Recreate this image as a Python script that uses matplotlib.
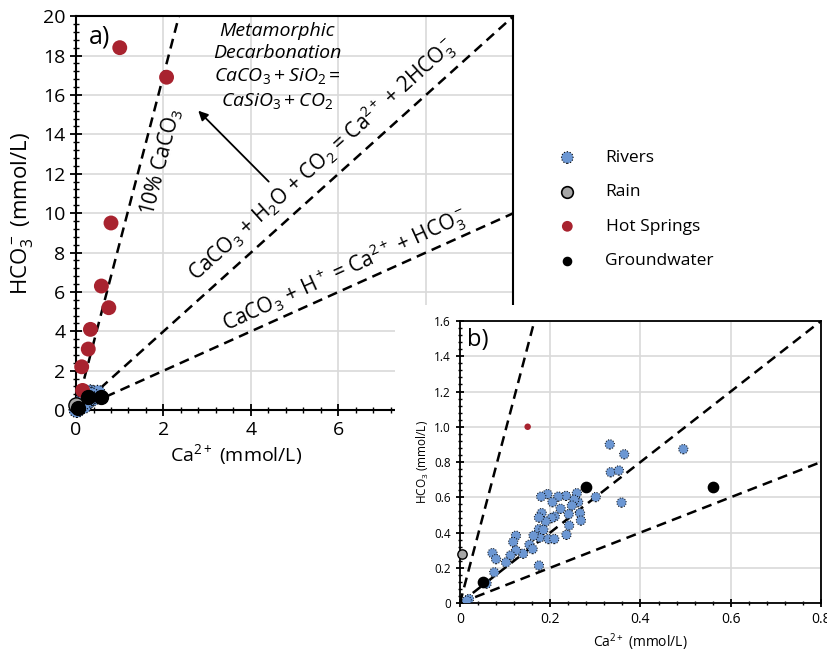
import numpy as np
import matplotlib.pyplot as plt
from matplotlib.patches import Rectangle
from matplotlib.ticker import MultipleLocator

plt.rcParams['font.family'] = ['Open Sans', 'DejaVu Sans']
plt.rcParams['mathtext.fontset'] = 'custom'
plt.rcParams['mathtext.rm'] = 'Open Sans'
plt.rcParams['mathtext.it'] = 'Open Sans:italic'

# data (mmol/L)
rivers_ca = [0.332, 0.364, 0.495, 0.334, 0.352, 0.358, 0.301, 0.259, 0.262, 0.253,
             0.235, 0.218, 0.194, 0.180, 0.205, 0.223, 0.248, 0.241, 0.266, 0.268,
             0.242, 0.236, 0.210, 0.203, 0.190, 0.181, 0.175, 0.175, 0.177, 0.163,
             0.196, 0.209, 0.154, 0.161, 0.140, 0.124, 0.118, 0.124, 0.112, 0.102,
             0.072, 0.080, 0.076, 0.175, 0.059, 0.020, 0.015, 0.185]
rivers_hco3 = [0.90, 0.844, 0.873, 0.742, 0.752, 0.570, 0.601, 0.623, 0.572, 0.586,
               0.608, 0.604, 0.618, 0.604, 0.572, 0.535, 0.553, 0.504, 0.510, 0.468,
               0.440, 0.387, 0.491, 0.482, 0.463, 0.510, 0.485, 0.419, 0.372, 0.382,
               0.363, 0.363, 0.331, 0.306, 0.280, 0.382, 0.346, 0.298, 0.270, 0.230,
               0.283, 0.249, 0.174, 0.213, 0.110, 0.023, 0.013, 0.415]
rain_ca = [0.005]
rain_hco3 = [0.28]
hot_ca = [1.0, 2.07, 0.80, 0.58, 0.75, 0.33, 0.28, 0.13, 0.15]
hot_hco3 = [18.4, 16.9, 9.5, 6.3, 5.2, 4.1, 3.1, 2.2, 1.0]
gw_ca = [0.05, 0.28, 0.56]
gw_hco3 = [0.12, 0.66, 0.66]

# HCO3/Ca reference ratios
ratio_10pct_a = 8.5
ratio_10pct_b = 9.7
ratio_co2 = 2.0
ratio_h = 1.0

c_river = '#6C97D3'
c_rain = '#A6A6A6'
c_hot = '#A8232F'
grid_c = '#d9d9d9'

fig = plt.figure(figsize=(8.27, 6.51), dpi=100)
ax = fig.add_axes([0.0919, 0.370, 0.529, 0.6052])
ax.set_zorder(0)


def style_axes(a, xmaj, xmin, ymaj, ymin, lw=1.5):
    a.xaxis.set_major_locator(MultipleLocator(xmaj))
    a.xaxis.set_minor_locator(MultipleLocator(xmin))
    a.yaxis.set_major_locator(MultipleLocator(ymaj))
    a.yaxis.set_minor_locator(MultipleLocator(ymin))
    a.grid(True, which='major', color=grid_c, linewidth=1.2)
    a.set_axisbelow(True)
    for s in a.spines.values():
        s.set_linewidth(lw)
        s.set_color('black')
    a.tick_params(which='major', direction='inout', length=8, width=1.3)
    a.tick_params(which='minor', direction='inout', length=4, width=1.0)


def ref_lines(a, slopes, xmax):
    xs = np.array([0, xmax])
    for m in slopes:
        a.plot(xs, m * xs, '--', color='black', lw=1.8, dashes=(4, 2.5), zorder=2)


# ---- panel a ----
ax.set_xlim(0, 10)
ax.set_ylim(0, 20)
style_axes(ax, 2, 0.4, 2, 0.4)
ax.set_xticks(np.arange(0, 11, 2), ['0', '2', '4', '6', '', ''])
ax.tick_params(labelsize=14)
ref_lines(ax, [ratio_10pct_a, ratio_co2, ratio_h], 10)
ax.scatter(rivers_ca, rivers_hco3, s=120, color=c_river, edgecolors='black',
           linewidths=0.8, linestyles=':', zorder=3, clip_on=False)
ax.scatter(rain_ca, rain_hco3, s=120, color=c_rain, edgecolors='black',
           linewidths=1.0, zorder=3, clip_on=False)
ax.scatter(hot_ca, hot_hco3, s=115, color=c_hot, edgecolors='none', zorder=3, clip_on=False)
ax.scatter(gw_ca, gw_hco3, s=100, color='black', zorder=4, clip_on=False)
ax.set_xlabel('Ca$^{2+}$ (mmol/L)', fontsize=14, labelpad=2)
ax.xaxis.set_label_coords(0.366, -0.082)
ax.set_ylabel('HCO$_3^-$ (mmol/L)', fontsize=16, labelpad=6)
ax.text(0.3, 19.6, 'a)', fontsize=18, va='top', ha='left')

ax.text(5.63, 12.7, 'CaCO$_3$ + H$_2$O + CO$_2$ = Ca$^{2+}$ + 2HCO$_3^-$',
        fontsize=15, rotation=42, ha='center', va='center', rotation_mode='anchor')
ax.text(6.15, 7.1, 'CaCO$_3$ + H$^+$ = Ca$^{2+}$ + HCO$_3^-$',
        fontsize=15, rotation=24.5, ha='center', va='center', rotation_mode='anchor')
ax.text(1.95, 12.6, '10% CaCO$_3$', fontsize=15, rotation=75.5,
        ha='center', va='center', rotation_mode='anchor')
ax.text(4.6, 17.45,
        'Metamorphic\nDecarbonation\n'
        r'$\mathit{CaCO}_3 + \mathit{SiO}_2 =$' '\n'
        r'$\mathit{CaSiO}_3 + \mathit{CO}_2$',
        fontsize=14, style='italic', ha='center', va='center', linespacing=1.3)
ax.annotate('', xy=(2.75, 15.3), xytext=(4.45, 11.5),
            arrowprops=dict(arrowstyle='-|>', color='black', lw=1.3,
                            mutation_scale=14))

# white block under panel b
fig.patches.append(Rectangle((395 / 827, 0), 1, 1 - 305 / 651,
                             transform=fig.transFigure, facecolor='white',
                             edgecolor='none', zorder=1))

# ---- panel b ----
bx = fig.add_axes([0.5562, 0.0737, 0.4365, 0.4332])
bx.set_zorder(2)
bx.set_xlim(0, 0.8)
bx.set_ylim(0, 1.6)
style_axes(bx, 0.2, 0.04, 0.2, 0.04, lw=1.3)
bx.tick_params(which='major', length=6)
bx.tick_params(which='minor', length=3)
bx.set_xticks([0, 0.2, 0.4, 0.6, 0.8], ['0', '0.2', '0.4', '0.6', '0.8'])
bx.set_yticks(np.arange(0, 1.61, 0.2),
              ['0', '0.2', '0.4', '0.6', '0.8', '1.0', '1.2', '1.4', '1.6'])
bx.tick_params(axis='x', labelsize=10)
bx.tick_params(axis='y', labelsize=8.5)
ref_lines(bx, [ratio_10pct_b, ratio_co2, ratio_h], 0.8)
bx.scatter(rivers_ca, rivers_hco3, s=45, color=c_river, edgecolors='black',
           linewidths=0.7, linestyles=':', zorder=3)
bx.scatter(rain_ca, rain_hco3, s=45, color=c_rain, edgecolors='black',
           linewidths=1.0, zorder=3, clip_on=False)
bx.scatter(hot_ca, hot_hco3, s=22, color=c_hot, edgecolors='none', zorder=3)
bx.scatter(gw_ca, gw_hco3, s=55, color='black', zorder=4)
bx.set_xlabel('Ca$^{2+}$ (mmol/L)', fontsize=10, labelpad=3)
bx.set_ylabel('HCO$_3$ (mmol/L)', fontsize=8.5, labelpad=2)
bx.text(0.016, 1.56, 'b)', fontsize=17, va='top', ha='left')

# ---- legend ----
h_riv = ax.scatter([], [], s=70, color=c_river, edgecolors='black', linewidths=0.8, linestyles=':')
h_rain = ax.scatter([], [], s=70, color=c_rain, edgecolors='black', linewidths=1.2)
h_hot = ax.scatter([], [], s=60, color=c_hot, edgecolors='none')
h_gw = ax.scatter([], [], s=35, color='black')
fig.legend([h_riv, h_rain, h_hot, h_gw], ['Rivers', 'Rain', 'Hot Springs', 'Groundwater'],
           loc='upper left', bbox_to_anchor=(543 / 827, 1 - 143 / 651), frameon=False,
           fontsize=12.5, labelspacing=1.05, handletextpad=1.2, borderaxespad=0)

fig.savefig('out.png', dpi=100)
